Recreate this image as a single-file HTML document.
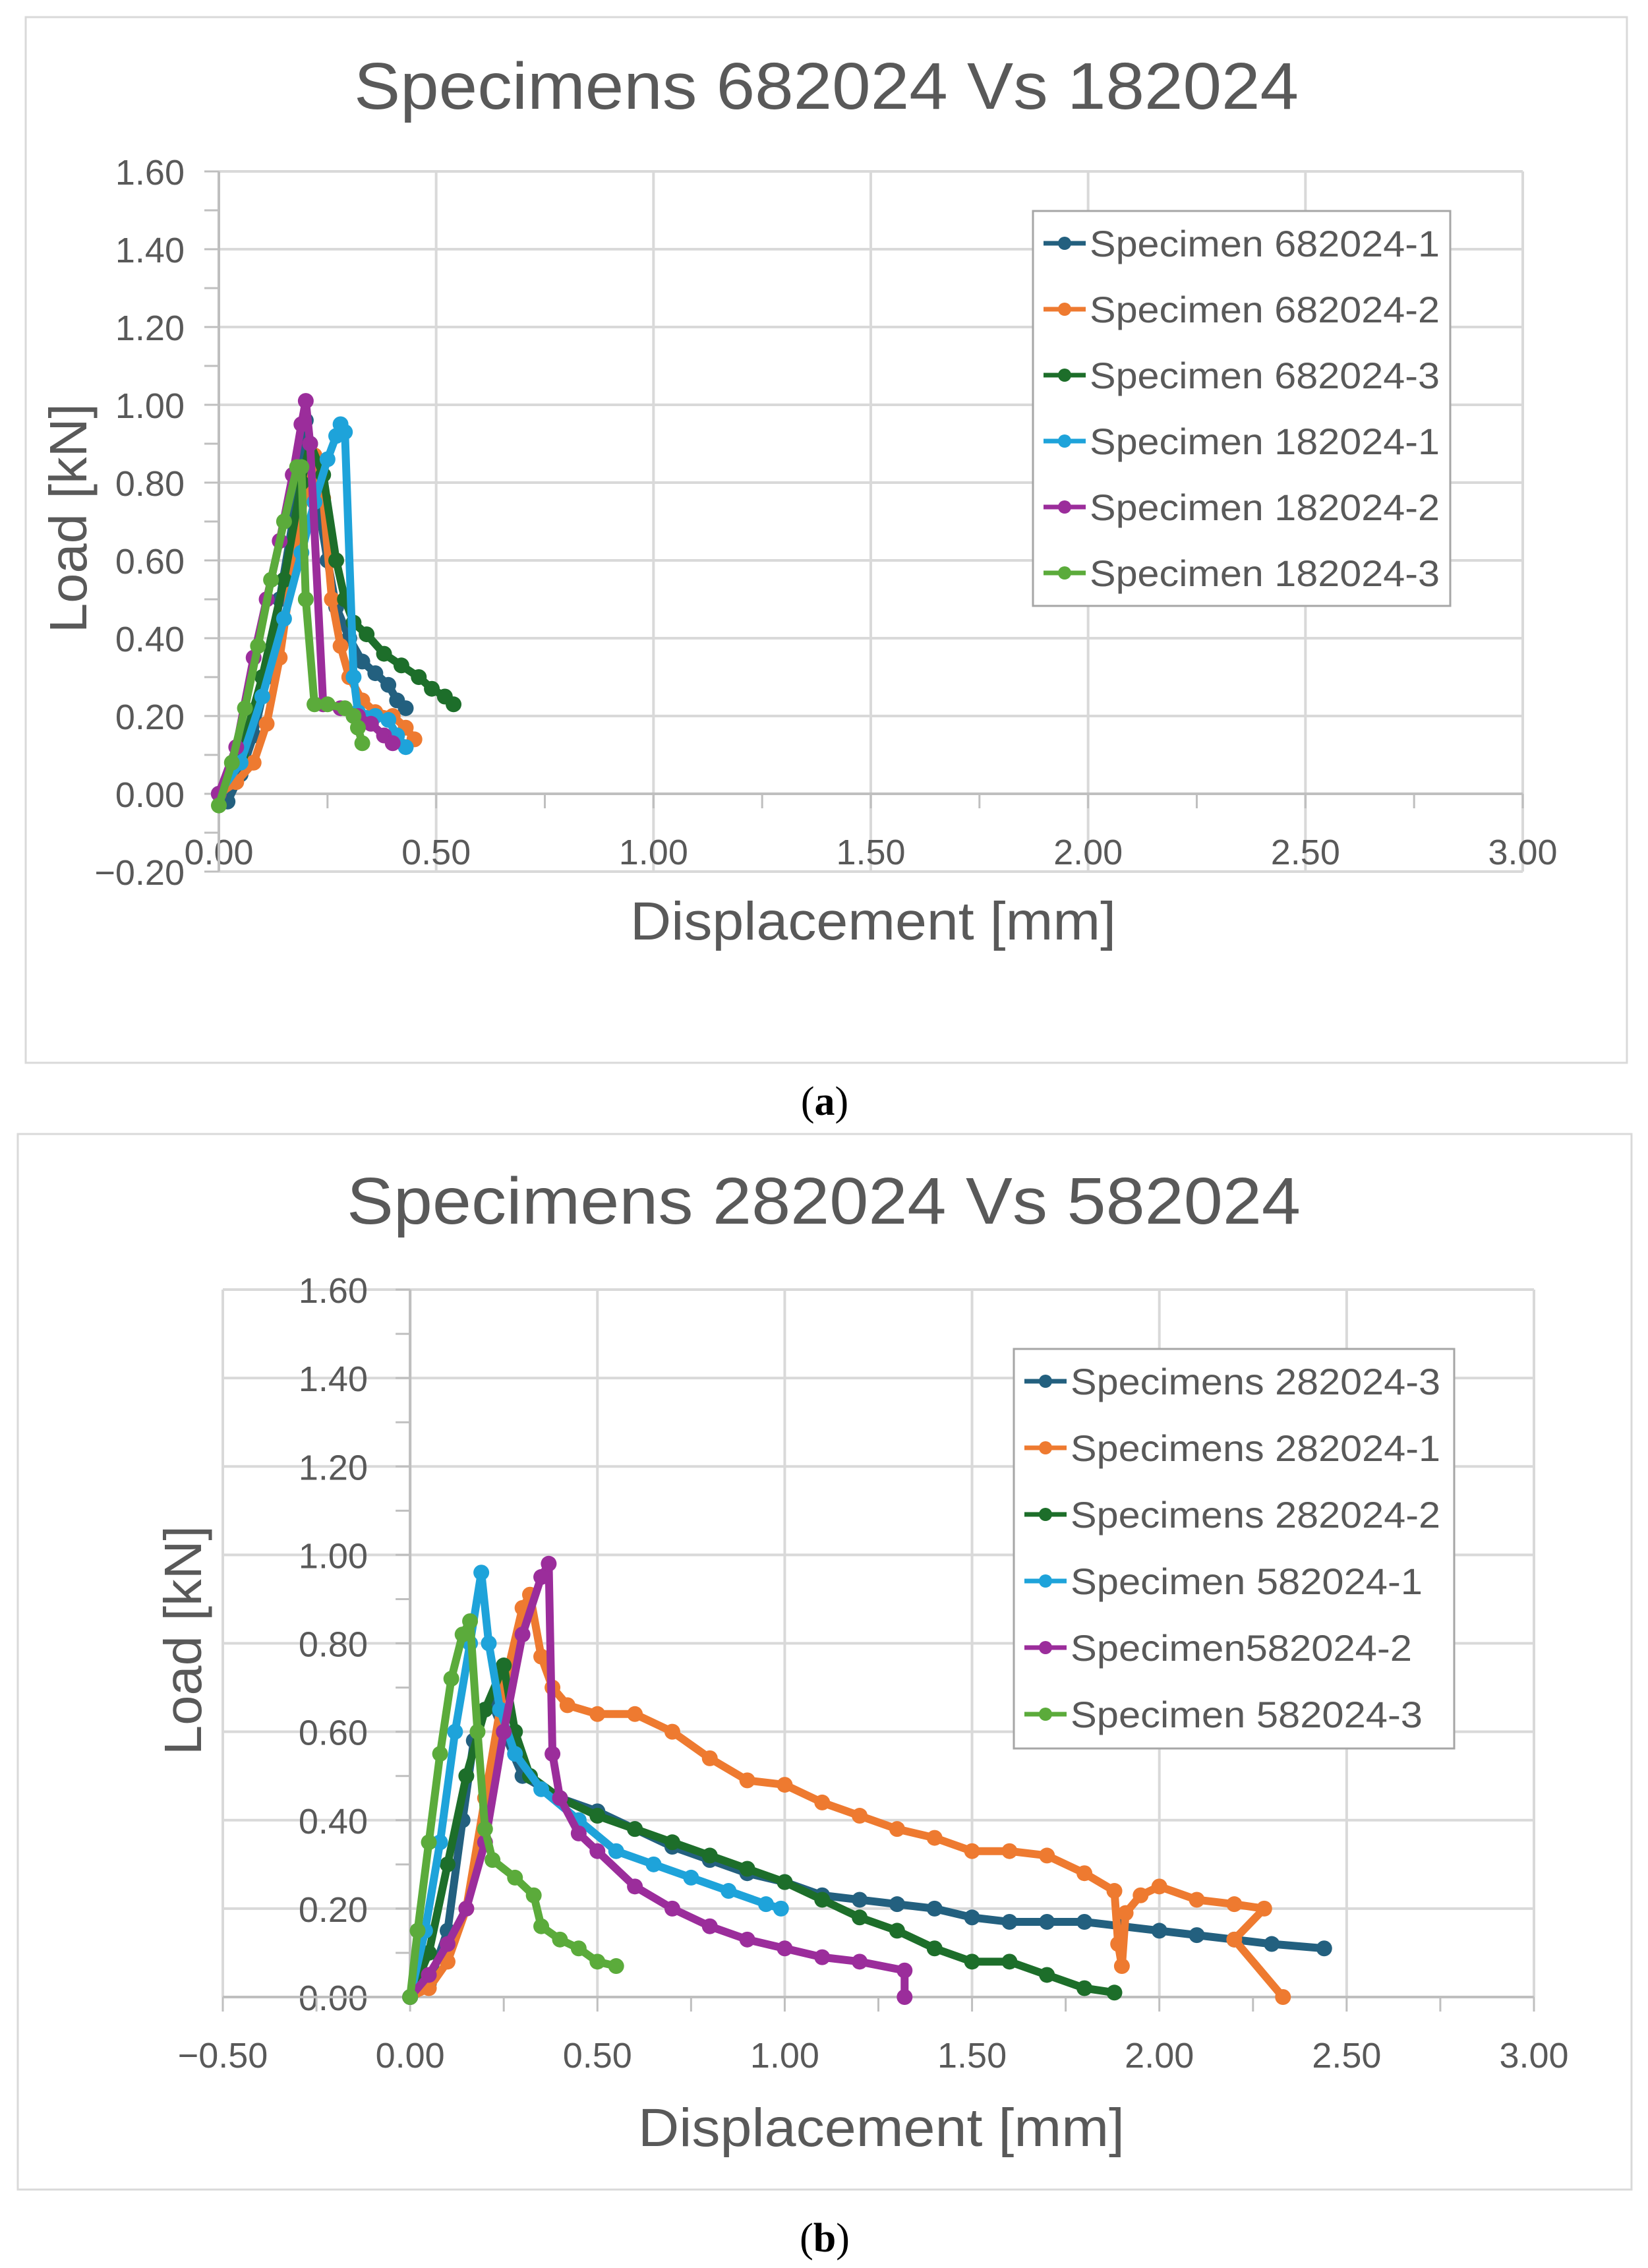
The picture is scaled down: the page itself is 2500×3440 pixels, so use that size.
<!DOCTYPE html>
<html><head><meta charset="utf-8"><style>
html,body{margin:0;padding:0;background:#fff}
svg{display:block}
text{font-family:"Liberation Sans",sans-serif;fill:#595959}
</style></head><body>
<svg id="root" width="2500" height="3440" viewBox="0 0 2500 3440" xmlns="http://www.w3.org/2000/svg">
<rect x="0" y="0" width="2500" height="3440" fill="#fff"/>
<rect x="39" y="26" width="2429" height="1586" fill="#fff" stroke="#d9d9d9" stroke-width="3"/>
<rect x="27" y="1720" width="2448" height="1601" fill="#fff" stroke="#d9d9d9" stroke-width="3"/>
<g id="ca"></g>
<g id="cb"></g>
<text x="1251" y="1691" text-anchor="middle" style="font-family:'Liberation Serif',serif;font-size:62px;fill:#000">(<tspan font-weight="bold">a</tspan>)</text>
<text x="1251" y="3415" text-anchor="middle" style="font-family:'Liberation Serif',serif;font-size:62px;fill:#000">(<tspan font-weight="bold">b</tspan>)</text>
</svg>
<script>
// ---------- Chart A data ----------
const aNames = ["Specimen 682024-1","Specimen 682024-2","Specimen 682024-3","Specimen 182024-1","Specimen 182024-2","Specimen 182024-3"];
const aX1 = [0.02,0.05,0.08,0.11,0.14,0.17,0.19,0.20,0.22,0.25,0.27,0.30,0.33,0.36,0.39,0.41,0.43];
const aY1 = [-0.02,0.05,0.15,0.30,0.50,0.70,0.88,0.96,0.80,0.60,0.48,0.40,0.34,0.31,0.28,0.24,0.22];
const aX2 = [0,0.04,0.08,0.11,0.14,0.17,0.20,0.22,0.24,0.26,0.28,0.30,0.33,0.36,0.40,0.43,0.45];
const aY2 = [0,0.03,0.08,0.18,0.35,0.58,0.78,0.87,0.76,0.50,0.38,0.30,0.24,0.21,0.20,0.17,0.14];
const aX3 = [0,0.05,0.10,0.15,0.19,0.21,0.24,0.27,0.29,0.31,0.34,0.38,0.42,0.46,0.49,0.52,0.54];
const aY3 = [0,0.10,0.30,0.55,0.80,0.90,0.82,0.60,0.50,0.44,0.41,0.36,0.33,0.30,0.27,0.25,0.23];
const aX4 = [0,0.05,0.10,0.15,0.19,0.22,0.25,0.27,0.28,0.29,0.31,0.32,0.36,0.39,0.41,0.43];
const aY4 = [0,0.08,0.25,0.45,0.62,0.75,0.86,0.92,0.95,0.93,0.30,0.21,0.20,0.19,0.15,0.12];
const aX5 = [0,0.04,0.08,0.11,0.14,0.17,0.19,0.20,0.21,0.24,0.28,0.32,0.35,0.38,0.40];
const aY5 = [0,0.12,0.35,0.50,0.65,0.82,0.95,1.01,0.90,0.23,0.22,0.20,0.18,0.15,0.13];
const aX6 = [0,0.03,0.06,0.09,0.12,0.15,0.18,0.19,0.20,0.22,0.25,0.29,0.31,0.32,0.33];
const aY6 = [-0.03,0.08,0.22,0.38,0.55,0.70,0.84,0.84,0.50,0.23,0.23,0.22,0.20,0.17,0.13];
const aXTicks = ["0.00","0.50","1.00","1.50","2.00","2.50","3.00"];
const aYTicks = ["-0.20","0.00","0.20","0.40","0.60","0.80","1.00","1.20","1.40","1.60"];

// ---------- Chart B data ----------
const bNames = ["Specimens 282024-3","Specimens 282024-1","Specimens 282024-2","Specimen 582024-1","Specimen582024-2","Specimen 582024-3"];
const bX1 = [0,0.05,0.10,0.14,0.17,0.20,0.22,0.25,0.30,0.40,0.50,0.60,0.70,0.80,0.90,1.00,1.10,1.20,1.30,1.40,1.50,1.60,1.70,1.80,1.90,2.00,2.10,2.20,2.30,2.44];
const bY1 = [0,0.03,0.15,0.40,0.58,0.65,0.66,0.60,0.50,0.45,0.42,0.38,0.34,0.31,0.28,0.26,0.23,0.22,0.21,0.20,0.18,0.17,0.17,0.17,0.16,0.15,0.14,0.13,0.12,0.11];
const bX2 = [0,0.05,0.10,0.15,0.20,0.25,0.30,0.32,0.35,0.38,0.42,0.50,0.60,0.70,0.80,0.90,1.00,1.10,1.20,1.30,1.40,1.50,1.60,1.70,1.80,1.88,1.89,1.90,1.91,1.95,2.00,2.10,2.20,2.28,2.20,2.33];
const bY2 = [0,0.02,0.08,0.20,0.45,0.70,0.88,0.91,0.77,0.70,0.66,0.64,0.64,0.60,0.54,0.49,0.48,0.44,0.41,0.38,0.36,0.33,0.33,0.32,0.28,0.24,0.12,0.07,0.19,0.23,0.25,0.22,0.21,0.20,0.13,0.00];
const bX3 = [0,0.05,0.10,0.15,0.20,0.25,0.28,0.32,0.40,0.50,0.60,0.70,0.80,0.90,1.00,1.10,1.20,1.30,1.40,1.50,1.60,1.70,1.80,1.88];
const bY3 = [0,0.10,0.30,0.50,0.65,0.75,0.60,0.50,0.45,0.41,0.38,0.35,0.32,0.29,0.26,0.22,0.18,0.15,0.11,0.08,0.08,0.05,0.02,0.01];
const bX4 = [0,0.04,0.08,0.12,0.16,0.19,0.21,0.24,0.28,0.35,0.45,0.55,0.65,0.75,0.85,0.95,0.99];
const bY4 = [0,0.15,0.35,0.60,0.80,0.96,0.80,0.65,0.55,0.47,0.40,0.33,0.30,0.27,0.24,0.21,0.20];
const bX5 = [0,0.05,0.10,0.15,0.20,0.25,0.30,0.35,0.37,0.38,0.40,0.45,0.50,0.60,0.70,0.80,0.90,1.00,1.10,1.20,1.32,1.32];
const bY5 = [0,0.05,0.12,0.20,0.35,0.60,0.82,0.95,0.98,0.55,0.45,0.37,0.33,0.25,0.20,0.16,0.13,0.11,0.09,0.08,0.06,0.00];
const bX6 = [0,0.02,0.05,0.08,0.11,0.14,0.16,0.18,0.20,0.22,0.28,0.33,0.35,0.40,0.45,0.50,0.55];
const bY6 = [0,0.15,0.35,0.55,0.72,0.82,0.85,0.60,0.38,0.31,0.27,0.23,0.16,0.13,0.11,0.08,0.07];
const bXTicks = ["-0.50","0.00","0.50","1.00","1.50","2.00","2.50","3.00"];
const bYTicks = ["0.00","0.20","0.40","0.60","0.80","1.00","1.20","1.40","1.60"];

const colors = ["#23607f","#ee7a30","#1d6e2a","#1ea3da","#9b2d9b","#5bab3b"];
const NS = "http://www.w3.org/2000/svg";
function mk(parent, tag, attrs){const e=document.createElementNS(NS,tag);for(const k in attrs)e.setAttribute(k,attrs[k]);parent.appendChild(e);return e;}

function drawChart(g, cfg){
  const sx=v=>cfg.x0+(v-cfg.xmin)/(cfg.xmax-cfg.xmin)*(cfg.x1-cfg.x0);
  const sy=v=>cfg.y0-(v-cfg.ymin)/(cfg.ymax-cfg.ymin)*(cfg.y0-cfg.y1);
  cfg.yTicks.forEach(t=>{const v=parseFloat(t);
    const l=mk(g,"line",{x1:cfg.x0,x2:cfg.x1,y1:sy(v),y2:sy(v),stroke:"#d9d9d9","stroke-width":4});
    
    
    const tx=mk(g,"text",{x:cfg.yLabX,y:sy(v)+20,"text-anchor":"end","font-size":54});
    tx.textContent=t.replace("-","\u2212");
    
    
  });
  cfg.xTicks.forEach(t=>{const v=parseFloat(t);
    const l=mk(g,"line",{x1:sx(v),x2:sx(v),y1:cfg.y1,y2:cfg.y0,stroke:"#d9d9d9","stroke-width":4});
    
    
    const tx=mk(g,"text",{x:sx(v),y:cfg.xLabY,"text-anchor":"middle","font-size":54});
    tx.textContent=t.replace("-","\u2212");
    
    
  });
  const ax=mk(g,"line",{x1:cfg.x0,x2:cfg.x1,y1:sy(0),y2:sy(0),stroke:"#bfbfbf","stroke-width":4});
  
  
  const ay=mk(g,"line",{x1:sx(0),x2:sx(0),y1:cfg.y1,y2:cfg.y0,stroke:"#bfbfbf","stroke-width":4});
  
  
  for(let v=cfg.ymin;v<=cfg.ymax+1e-9;v+=0.1){const m=mk(g,"line",{x1:sx(0)-22,x2:sx(0),y1:sy(v),y2:sy(v),stroke:"#bfbfbf","stroke-width":3});
    
    }
  for(let v=cfg.xmin;v<=cfg.xmax+1e-9;v+=0.25){const m=mk(g,"line",{x1:sx(v),x2:sx(v),y1:sy(0),y2:sy(0)+22,stroke:"#bfbfbf","stroke-width":3});
    
    }
  cfg.series.forEach((s,i)=>{
    const sg=mk(g,"g",{});
    
    
    const pts=s.x.map((xv,j)=>sx(xv)+","+sy(s.y[j])).join(" ");
    mk(sg,"polyline",{points:pts,fill:"none",stroke:colors[i],"stroke-width":12,"stroke-linejoin":"round","stroke-linecap":"round"});
    s.x.forEach((xv,j)=>{const c=mk(sg,"circle",{cx:sx(xv),cy:sy(s.y[j]),r:12,fill:colors[i]});
      
      });
  });
  const ti=mk(g,"text",{x:cfg.titleX,y:cfg.titleY,"font-size":100,textLength:cfg.titleW,lengthAdjust:"spacingAndGlyphs"});
  ti.textContent=cfg.title;
  
  
  const xt=mk(g,"text",{x:cfg.xtX,y:cfg.xtY,"font-size":82,textLength:cfg.xtW,lengthAdjust:"spacingAndGlyphs"});
  xt.textContent="Displacement [mm]";
  
  
  const yt=mk(g,"text",{x:0,y:0,"font-size":80,textLength:348,lengthAdjust:"spacingAndGlyphs","text-anchor":"middle",transform:`translate(${cfg.ytX},${cfg.ytY}) rotate(-90)`});
  yt.textContent="Load [kN]";
  
  
  const lg=mk(g,"g",{});
  
  
  mk(lg,"rect",{x:cfg.lx,y:cfg.ly,width:cfg.lw,height:cfg.lh,fill:"#fff",stroke:"#a6a6a6","stroke-width":3});
  cfg.names.forEach((n,i)=>{
    const e=mk(lg,"g",{});
    
    
    const yy=cfg.ly+49+i*cfg.lstep;
    mk(e,"line",{x1:cfg.lx+16,x2:cfg.lx+80,y1:yy,y2:yy,stroke:colors[i],"stroke-width":7});
    mk(e,"circle",{cx:cfg.lx+48,cy:yy,r:10,fill:colors[i]});
    const t=mk(e,"text",{x:cfg.lx+86,y:yy+20,"font-size":56,textLength:cfg.lTextW[i],lengthAdjust:"spacingAndGlyphs"});
    t.textContent=n;
  });
}

drawChart(document.getElementById("ca"),{
  xmin:0,xmax:3,ymin:-0.2,ymax:1.6,x0:332,x1:2310,y0:1322,y1:260,
  xTicks:aXTicks,yTicks:aYTicks,yLabX:280,xLabY:1311,
  series:[{x:aX1,y:aY1},{x:aX2,y:aY2},{x:aX3,y:aY3},{x:aX4,y:aY4},{x:aX5,y:aY5},{x:aX6,y:aY6}],
  title:"Specimens 682024 Vs 182024",titleX:537,titleY:165,titleW:1433,
  xtX:956,xtY:1425,xtW:737,ytX:131,ytY:786,
  names:aNames,lx:1567,ly:320,lw:633,lh:599,lstep:100,lTextW:[531,531,531,531,531,531]
});
drawChart(document.getElementById("cb"),{
  xmin:-0.5,xmax:3,ymin:0,ymax:1.6,x0:338,x1:2327,y0:3029,y1:1956,
  xTicks:bXTicks,yTicks:bYTicks,yLabX:558,xLabY:3136,
  series:[{x:bX1,y:bY1},{x:bX2,y:bY2},{x:bX3,y:bY3},{x:bX4,y:bY4},{x:bX5,y:bY5},{x:bX6,y:bY6}],
  title:"Specimens 282024 Vs 582024",titleX:526,titleY:1856,titleW:1447,
  xtX:968,xtY:3255,xtW:738,ytX:305,ytY:2488,
  names:bNames,lx:1538,ly:2046,lw:668,lh:606,lstep:101,lTextW:[561,561,561,534,518,534]
});
</script>
</body></html>
